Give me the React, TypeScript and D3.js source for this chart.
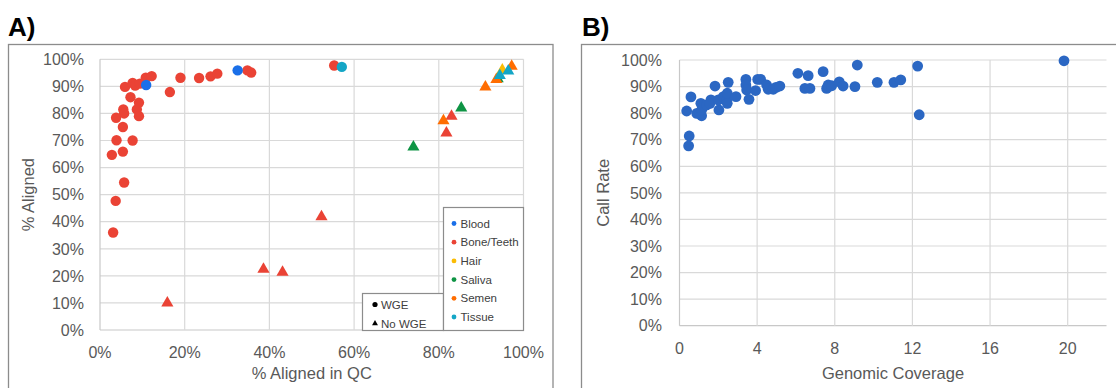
import React from "react";
import * as d3 from "d3";

// ---- Panel A data: [% aligned in QC, % aligned] ----
const tissueTypes = ["Blood", "Bone/Teeth", "Hair", "Saliva", "Semen", "Tissue"];
const tissueColors = ["#1a6fe8", "#ea4335", "#fbbc04", "#0e9444", "#ff6d01", "#14a6c6"];

const bloodWge: [number, number][] = [[10.9, 90.5], [32.5, 95.9]];
const boneWge: [number, number][] = [
  [5.9, 89.8], [7.7, 91.3], [8.3, 90.3], [9.4, 91], [10.8, 93.2], [12.2, 93.8],
  [19.0, 93.2], [16.5, 87.9], [7.2, 86], [9.2, 84], [8.7, 81.5], [9.2, 79],
  [5.5, 81.5], [5.7, 80], [3.8, 78.4], [5.4, 75], [3.9, 70.1], [7.7, 70],
  [2.8, 64.7], [5.4, 65.9], [5.7, 54.5], [3.7, 47.7], [3.1, 36],
  [23.4, 93.1], [26.1, 93.7], [27.7, 94.7], [34.8, 95.9], [35.7, 95.1], [55.3, 97.7],
];
const tissueWge: [number, number][] = [[57.1, 97.2]];
const boneNoWge: [number, number][] = [
  [15.9, 10], [38.6, 22.4], [43.1, 21.3], [52.3, 41.8], [81.8, 72.8], [83.0, 79],
];
const salivaNoWge: [number, number][] = [[74.0, 67.6], [85.3, 82], [93.9, 92.8]];
const semenNoWge: [number, number][] = [[81.1, 77.3], [91.0, 89.8], [93.6, 92.5], [97.2, 97.4]];
const hairNoWge: [number, number][] = [[95.0, 96]];
const tissueNoWge: [number, number][] = [[94.4, 94], [96.4, 95.7]];

const xTicksA = [0, 20, 40, 60, 80, 100];
const yTicksA = [0, 10, 20, 30, 40, 50, 60, 70, 80, 90, 100];

// ---- Panel B data: [genomic coverage, call rate %] ----
const coverage = [
  0.37, 0.59, 0.5, 0.47, 0.89, 1.06, 1.14, 1.1, 1.23, 1.14, 1.4, 1.62, 1.57, 1.83, 2.03,
  2.0, 2.26, 2.43, 2.46, 2.51, 2.46, 2.91, 3.42, 3.42, 3.46, 3.58, 3.92, 4.03, 4.18,
  4.49, 4.57, 4.83, 4.97, 5.17, 6.1, 6.63, 6.46, 6.72, 7.4, 7.58, 7.66, 7.84, 8.23,
  8.43, 9.04, 9.16, 10.19, 11.05, 11.4, 12.27, 12.35, 19.81,
];
const callRate = [
  80.8, 86.1, 71.4, 67.7, 79.9, 79.7, 79.0, 83.7, 82.4, 81.2, 83.1, 85, 83.7, 90.2, 81.2,
  85, 86.2, 85, 87.5, 91.6, 83.7, 86.2, 92.7, 90.6, 88.7, 85.2, 88.5, 92.7, 92.7,
  90.6, 89, 89, 89.7, 90.2, 95, 94.1, 89.3, 89.3, 95.6, 89.3, 90.6, 90.3, 91.8,
  90.2, 90, 98.1, 91.6, 91.6, 92.5, 97.7, 79.4, 99.7,
];
const xTicksB = [0, 4, 8, 12, 16, 20];
const yTicksB = [0, 10, 20, 30, 40, 50, 60, 70, 80, 90, 100];

const FONT = "'Liberation Sans', Arial, Helvetica, sans-serif";
const GRID = "#d9d9d9";
const TXT = "#595959";
const TICK_SIZE = 16;
const TITLE_SIZE = 16.5;
const LEGEND_SIZE = 11.5;

const tri = d3.symbol().type(d3.symbolTriangle).size(64)();
const smallTri = d3.symbol().type(d3.symbolTriangle).size(15)();

export default function App() {
  // panel A scales
  const xA = d3.scaleLinear().domain([0, 100]).range([100, 523.5]);
  const yA = d3.scaleLinear().domain([0, 100]).range([330, 59.3]);
  // panel B scales
  const xB = d3.scaleLinear().domain([0, 22]).range([679.5, 1106.5]);
  const yB = d3.scaleLinear().domain([0, 100]).range([325.7, 60]);

  const circles = (pts: [number, number][], color: string) =>
    pts.map((d, i) => <circle key={color + "c" + i} cx={xA(d[0])} cy={yA(d[1])} r={5.2} fill={color} />);
  const triangles = (pts: [number, number][], color: string) =>
    pts.map((d, i) => (
      <path key={color + "t" + i} d={tri!} transform={`translate(${xA(d[0])},${yA(d[1])})`} fill={color} />
    ));

  return (
    <svg width={1116} height={388} style={{ position: "absolute", left: 0, top: 0, fontFamily: FONT }}>
      <rect width={1116} height={388} fill="#fff" />

      {/* ===== Panel A ===== */}
      <text x={8} y={36} fontSize={26} fontWeight="bold" fill="#000">A)</text>
      <rect x={8.5} y={44.5} width={544.5} height={360} fill="none" stroke="#8c8c8c" strokeWidth={1.3} />
      {yTicksA.map((t) => (
        <g key={"ya" + t}>
          <line x1={xA(0)} x2={xA(100)} y1={yA(t)} y2={yA(t)} stroke={t === 0 ? "#c8c8c8" : GRID} strokeWidth={1.2} />
          <text x={84} y={yA(t)} dy="0.36em" textAnchor="end" fontSize={TICK_SIZE} fill={TXT}>{t}%</text>
        </g>
      ))}
      {xTicksA.map((t) => (
        <g key={"xa" + t}>
          <line x1={xA(t)} x2={xA(t)} y1={yA(0)} y2={yA(100)} stroke={t === 0 ? "#c8c8c8" : GRID} strokeWidth={1.2} />
          <text x={xA(t)} y={357.5} textAnchor="middle" fontSize={TICK_SIZE} fill={TXT}>{t}%</text>
        </g>
      ))}
      <text x={(xA(0) + xA(100)) / 2} y={379} textAnchor="middle" fontSize={TITLE_SIZE} fill={TXT}>% Aligned in QC</text>
      <text transform={`translate(34,${(yA(0) + yA(100)) / 2}) rotate(-90)`} textAnchor="middle" fontSize={TITLE_SIZE} fill={TXT}>
        % Aligned
      </text>

      {circles(boneWge, tissueColors[1])}
      {circles(bloodWge, tissueColors[0])}
      {circles(tissueWge, tissueColors[5])}
      {triangles(boneNoWge, tissueColors[1])}
      {triangles(salivaNoWge, tissueColors[3])}
      {triangles(semenNoWge, tissueColors[4])}
      {triangles(hairNoWge, tissueColors[2])}
      {triangles(tissueNoWge, tissueColors[5])}

      {/* shape legend */}
      <rect x={362.5} y={293.5} width={81} height={37} fill="#fff" stroke="#8c8c8c" strokeWidth={1.2} />
      <circle cx={375} cy={304.5} r={2.6} fill="#000" />
      <text x={381} y={304.5} dy="0.36em" fontSize={LEGEND_SIZE} fill="#404040">WGE</text>
      <path d={smallTri!} transform="translate(375,323.5)" fill="#000" />
      <text x={381} y={323.5} dy="0.36em" fontSize={LEGEND_SIZE} fill="#404040">No WGE</text>

      {/* colour legend */}
      <rect x={443.5} y={207.5} width={80} height={123} fill="#fff" stroke="#8c8c8c" strokeWidth={1.2} />
      {tissueTypes.map((name, i) => (
        <g key={name} transform={`translate(454,${223.5 + i * 18.7})`}>
          <circle r={2.4} fill={tissueColors[i]} />
          <text x={6.5} dy="0.36em" fontSize={LEGEND_SIZE} fill="#404040">{name}</text>
        </g>
      ))}

      {/* ===== Panel B ===== */}
      <text x={582} y={36} fontSize={26} fontWeight="bold" fill="#000">B)</text>
      <rect x={581.5} y={44.5} width={560} height={360} fill="none" stroke="#8c8c8c" strokeWidth={1.3} />
      {yTicksB.map((t) => (
        <g key={"yb" + t}>
          <line x1={xB(0)} x2={xB(22)} y1={yB(t)} y2={yB(t)} stroke={t === 0 ? "#c8c8c8" : GRID} strokeWidth={1.2} />
          <text x={662} y={yB(t)} dy="0.36em" textAnchor="end" fontSize={TICK_SIZE} fill={TXT}>{t}%</text>
        </g>
      ))}
      {xTicksB.map((t) => (
        <g key={"xb" + t}>
          <line x1={xB(t)} x2={xB(t)} y1={yB(0)} y2={yB(100)} stroke={t === 0 ? "#c8c8c8" : GRID} strokeWidth={1.2} />
          <text x={xB(t)} y={354} textAnchor="middle" fontSize={TICK_SIZE} fill={TXT}>{t}</text>
        </g>
      ))}
      <text x={(xB(0) + xB(22)) / 2} y={379} textAnchor="middle" fontSize={TITLE_SIZE} fill={TXT}>Genomic Coverage</text>
      <text transform={`translate(609,${(yB(0) + yB(100)) / 2}) rotate(-90)`} textAnchor="middle" fontSize={TITLE_SIZE} fill={TXT}>
        Call Rate
      </text>
      {coverage.map((c, i) => (
        <circle key={"b" + i} cx={xB(c)} cy={yB(callRate[i])} r={5.4} fill="#2b67c3" />
      ))}
    </svg>
  );
}
